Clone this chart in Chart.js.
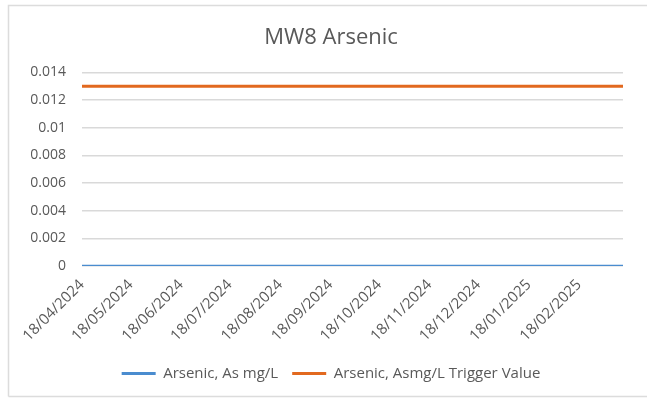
<!DOCTYPE html>
<html>
<head>
<meta charset="utf-8">
<script src="https://cdn.jsdelivr.net/npm/chart.js@4"></script>
<style>
  html, body { margin: 0; padding: 0; background: #ffffff; }
  #wrap { width: 648px; height: 400px; position: relative; }
</style>
</head>
<body>
<div id="wrap"><canvas id="myChart" width="648" height="400"></canvas></div>
<script>
// sample dates (dd/mm/yyyy) and results
const sampleDates = ['18/04/2024', '16/07/2024', '15/10/2024', '14/01/2025', '17/03/2025'];
const arsenicValues = [0, 0, 0, 0, 0];
const triggerValues = [0.013, 0.013, 0.013, 0.013, 0.013];
// x axis tick labels (monthly)
const xTickLabels = ['18/04/2024', '18/05/2024', '18/06/2024', '18/07/2024', '18/08/2024', '18/09/2024',
  '18/10/2024', '18/11/2024', '18/12/2024', '18/01/2025', '18/02/2025'];
const yTicks = [0, 0.002, 0.004, 0.006, 0.008, 0.01, 0.012, 0.014];

// convert dd/mm/yyyy to a day number
function toDay(s) {
  const p = s.split('/');
  return Date.UTC(+p[2], +p[1] - 1, +p[0]) / 86400000;
}
function fromDay(d) {
  const dt = new Date(d * 86400000);
  const dd = String(dt.getUTCDate()).padStart(2, '0');
  const mm = String(dt.getUTCMonth() + 1).padStart(2, '0');
  return dd + '/' + mm + '/' + dt.getUTCFullYear();
}

const arsenicPts = sampleDates.map((d, i) => ({ x: toDay(d), y: arsenicValues[i] }));
const triggerPts = sampleDates.map((d, i) => ({ x: toDay(d), y: triggerValues[i] }));
const xTickDays = xTickLabels.map(toDay);

const textColor = '#595959';
const gridColor = '#d9d9d9';

// light frame like the Excel chart area
const framePlugin = {
  id: 'frame',
  afterLayout(chart) {
    // centre title and legend a bit more to the right, like Excel
    chart.titleBlock.left = 39;
    chart.legend.left = 39;
  },
  afterDraw(chart) {
    const c = chart.ctx;
    c.save();
    c.strokeStyle = '#dcdcdc';
    c.lineWidth = 1.5;
    c.beginPath();
    c.moveTo(8.5, 396.5);
    c.lineTo(8.5, 5.5);
    c.lineTo(647, 5.5);
    c.moveTo(8.5, 396.5);
    c.lineTo(647, 396.5);
    c.stroke();
    c.restore();
  }
};

const ctx = document.getElementById('myChart').getContext('2d');
new Chart(ctx, {
  type: 'line',
  data: {
    datasets: [
      {
        label: 'Arsenic, As mg/L',
        data: arsenicPts,
        borderColor: '#4a8ccf',
        backgroundColor: '#4a8ccf',
        borderWidth: 2.5,
        pointRadius: 0,
        fill: false,
        order: 1
      },
      {
        label: 'Arsenic, Asmg/L Trigger Value',
        data: triggerPts,
        borderColor: '#e2691f',
        backgroundColor: '#e2691f',
        borderWidth: 3,
        pointRadius: 0,
        fill: false,
        order: 2
      }
    ]
  },
  options: {
    responsive: false,
    animation: false,
    layout: { padding: { top: 12, left: 10, right: 25, bottom: 9 } },
    plugins: {
      title: {
        display: true,
        text: 'MW8 Arsenic',
        color: textColor,
        font: { family: 'Open Sans', size: 22, weight: 'normal' },
        padding: { top: 13, bottom: 21 }
      },
      legend: {
        display: true,
        position: 'bottom',
        labels: {
          color: textColor,
          font: { family: 'Open Sans', size: 15 },
          boxWidth: 34,
          boxHeight: 3,
          padding: 14,
          generateLabels(chart) {
            return chart.data.datasets.map((ds, i) => ({
              text: ds.label,
              fillStyle: ds.borderColor,
              strokeStyle: ds.borderColor,
              lineWidth: 0,
              fontColor: textColor,
              datasetIndex: i
            }));
          }
        }
      },
      tooltip: { enabled: false }
    },
    scales: {
      x: {
        type: 'linear',
        min: toDay('18/04/2024'),
        max: toDay('17/03/2025'),
        afterBuildTicks(scale) {
          scale.ticks = xTickDays.map(v => ({ value: v }));
        },
        afterFit(scale) { scale.height = 86; },
        grid: { display: false, drawTicks: false },
        border: { display: false },
        ticks: {
          color: textColor,
          font: { family: 'Open Sans', size: 15 },
          minRotation: 45,
          maxRotation: 45,
          padding: 10,
          autoSkip: false,
          callback: v => fromDay(v)
        }
      },
      y: {
        min: 0,
        max: 0.014,
        afterBuildTicks(scale) {
          scale.ticks = yTicks.map(v => ({ value: v }));
        },
        afterFit(scale) { scale.width = 72; },
        grid: { color: gridColor, lineWidth: 1.5, drawTicks: false },
        border: { display: false },
        ticks: {
          color: textColor,
          font: { family: 'Open Sans', size: 14 },
          padding: 16,
          callback: v => String(+v.toFixed(3))
        }
      }
    }
  },
  plugins: [framePlugin]
});
</script>
</body>
</html>
